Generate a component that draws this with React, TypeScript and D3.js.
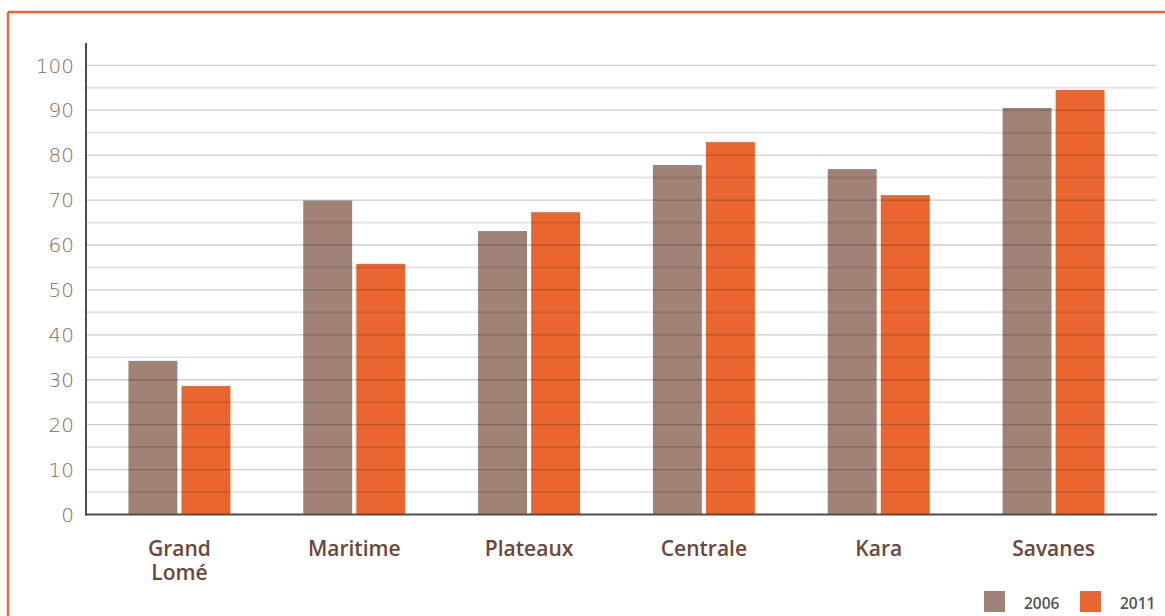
import React from "react";
import * as d3 from "d3";

const regions = ["Grand Lomé", "Maritime", "Plateaux", "Centrale", "Kara", "Savanes"];
const years = ["2006", "2011"];
const values2006 = [34.2, 69.9, 63.1, 77.8, 76.9, 90.5];
const values2011 = [28.6, 55.8, 67.3, 82.9, 71.1, 94.5];
const yTicks = [0, 10, 20, 30, 40, 50, 60, 70, 80, 90, 100];
const colors = ["#a08276", "#ea6631"];

const W = 1165;
const H = 616;
const axisX = 86;
const axisY = 514.5;
const gridRight = 1157;

export default function App() {
  const y = d3.scaleLinear().domain([0, 100]).range([axisY, 65.3]);
  const x = d3.scaleBand<string>().domain(regions).range([92, 1141]);
  const inner = d3.scaleBand<string>().domain(years).range([-51, 51]).paddingInner(0.078);
  const series = [values2006, values2011];
  const gridVals = d3.range(5, 101, 5);

  return (
    <svg
      width={W}
      height={H}
      style={{ position: "absolute", left: 0, top: 0, display: "block", background: "#fff" }}
    >
      {/* frame */}
      <line x1={8} y1={12} x2={W} y2={12} stroke="#ea6631" strokeWidth={2.5} />
      <line x1={8} y1={12} x2={8} y2={H} stroke="#ea6631" strokeWidth={2.5} />

      {/* bars */}
      {regions.map((r, i) => (
        <g key={r} transform={`translate(${x(r)! + x.bandwidth() / 2},0)`}>
          {years.map((yr, j) => (
            <rect
              key={yr}
              x={inner(yr)!}
              y={y(series[j][i])}
              width={inner.bandwidth()}
              height={axisY - y(series[j][i])}
              fill={colors[j]}
            />
          ))}
        </g>
      ))}

      {/* grid drawn over the bars */}
      {gridVals.map((v) => (
        <line
          key={v}
          x1={axisX}
          x2={gridRight}
          y1={y(v)}
          y2={y(v)}
          stroke="#000"
          strokeOpacity={v % 10 === 0 ? 0.2 : 0.1}
          strokeWidth={v % 10 === 0 ? 1.3 : 2}
        />
      ))}

      {/* axes */}
      <line x1={axisX} y1={43} x2={axisX} y2={axisY + 1} stroke="#4d4d4d" strokeWidth={2} />
      <line x1={axisX - 1} y1={axisY} x2={gridRight} y2={axisY} stroke="#4d4d4d" strokeWidth={2} />

      {/* y tick labels */}
      {yTicks.map((t) => (
        <text
          key={t}
          x={74}
          y={y(t)}
          dy="0.36em"
          textAnchor="end"
          fontFamily="'DejaVu Sans', sans-serif"
          fontWeight={200}
          fontSize={20}
          fill="#8a6a60"
        >
          {t}
        </text>
      ))}

      {/* category labels */}
      {regions.map((r) => {
        const parts = r === "Grand Lomé" ? ["Grand", "Lomé"] : [r];
        const cx = x(r)! + x.bandwidth() / 2;
        return parts.map((p, k) => (
          <text
            key={r + p}
            x={cx}
            y={556 + k * 24}
            textAnchor="middle"
            fontFamily="'Open Sans', sans-serif"
            fontWeight={600}
            fontSize={21}
            fill="#6e463b"
          >
            {p}
          </text>
        ));
      })}

      {/* legend */}
      {years.map((yr, j) => (
        <g key={yr} transform={`translate(${984 + j * 96},591)`}>
          <rect width={21} height={21} fill={colors[j]} />
          <text
            x={40}
            y={18}
            fontFamily="'Open Sans', sans-serif"
            fontWeight={600}
            fontSize={15.5}
            fill="#555"
          >
            {yr}
          </text>
        </g>
      ))}
    </svg>
  );
}
